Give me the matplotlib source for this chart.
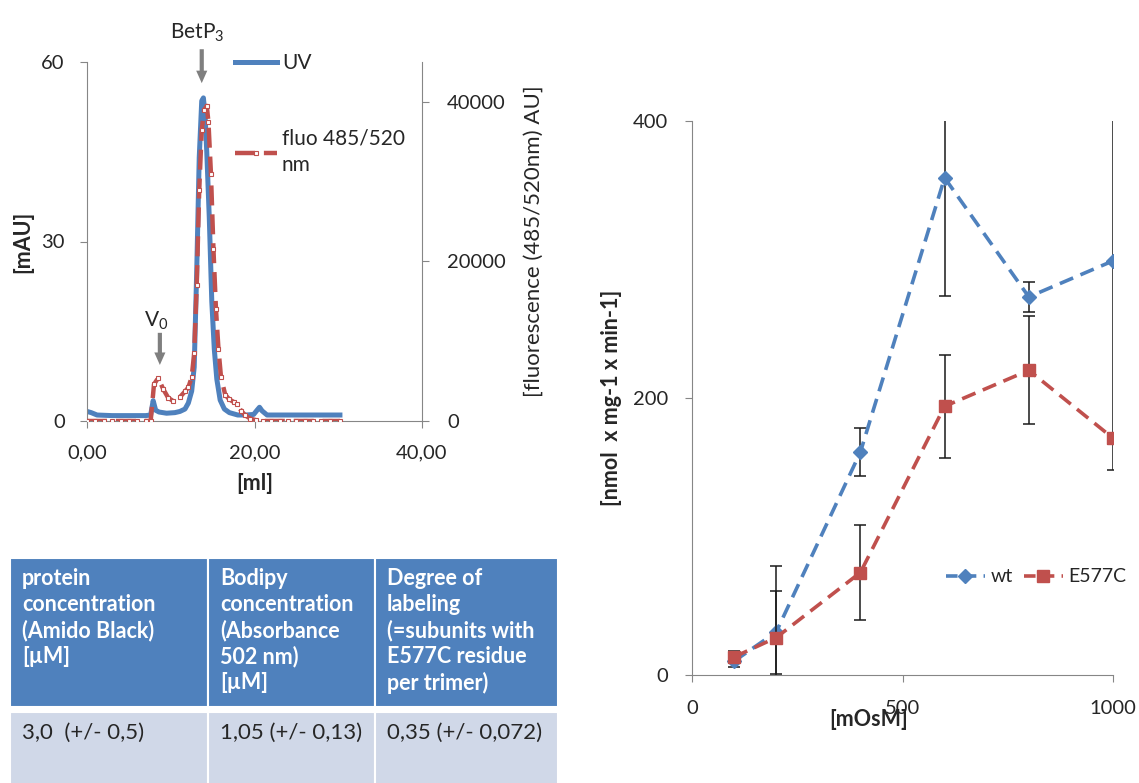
import matplotlib
matplotlib.use("Agg")
import matplotlib.pyplot as plt
from matplotlib.patches import Rectangle
from matplotlib.lines import Line2D

plt.rcParams['font.family'] = ['Lato', 'DejaVu Sans']
plt.rcParams['mathtext.default'] = 'regular'

# ---------------- data ----------------
# chromatogram (left)
uv_ml = [0.0, 0.5, 1.2, 3.0, 5.0, 7.0, 7.6, 7.9, 8.2, 8.6, 9.5, 10.5, 11.1, 11.7, 12.1,
         12.5, 12.8, 13.1, 13.4, 13.7, 13.9, 14.1, 14.3, 14.6, 14.9, 15.2, 15.5, 15.9,
         16.4, 17.0, 18.0, 19.0, 19.9, 20.3, 20.6, 20.9, 21.5, 23.0, 25.0, 27.0, 30.2]
uv_mau = [1.6, 1.4, 1.0, 0.9, 0.9, 0.9, 1.0, 3.4, 1.8, 1.5, 1.3, 1.4, 1.6, 2.0, 3.0,
          5.0, 9.0, 25.0, 44.0, 53.5, 54.0, 51.0, 45.0, 34.0, 20.0, 12.0, 7.0, 3.5,
          2.0, 1.4, 1.0, 1.0, 1.1, 1.8, 2.3, 1.7, 1.0, 1.0, 1.0, 1.0, 1.0]

fl_ml = [0.0, 1.0, 2.0, 3.0, 4.0, 5.0, 6.0, 7.0, 7.6, 8.0, 8.5, 9.1, 9.7, 10.3, 11.1,
         11.7, 12.1, 12.5, 12.8, 13.1, 13.4, 13.7, 14.0, 14.3, 14.5, 14.8, 15.1, 15.4,
         15.7, 16.0, 16.5, 17.0, 17.5, 17.9, 18.4, 18.9, 19.5, 20.2, 21.0, 22.0, 23.0,
         24.0, 25.0, 26.0, 27.0, 28.0, 29.0, 30.2]
fl_au = [0, 0, 0, 0, 0, 0, 0, 0, 0, 4600, 5400, 4000, 2900, 2500, 3000,
         3700, 4200, 5500, 8500, 17000, 29000, 36500, 39000, 39500, 37500, 31000, 21500, 14000,
         9000, 5500, 3300, 2700, 2400, 2100, 1300, 700, 300, 100, 0, 0, 0,
         0, 0, 0, 0, 0, 0, 0]

ml_ticks = [0, 20, 40]
ml_ticklabels = ["0,00", "20,00", "40,00"]
mau_ticks = [0, 30, 60]
au_ticks = [0, 20000, 40000]

# transport activity (right)
osm = [100, 200, 400, 600, 800, 1000]
wt = [10, 31, 161, 359, 273, 299]
wt_err = [4, 30, 17, 85, 11, 151]
e577c = [13, 27, 74, 194, 220, 171]
e577c_err = [4, 52, 34, 37, 39, 4]
osm_ticks = [0, 500, 1000]
act_ticks = [0, 200, 400]

# table
table_header = ["protein\nconcentration\n(Amido Black)\n[µM]",
                "Bodipy\nconcentration\n(Absorbance\n502 nm)\n[µM]",
                "Degree of\nlabeling\n(=subunits with\nE577C residue\nper trimer)"]
table_values = ["3,0  (+/- 0,5)", "1,05 (+/- 0,13)", "0,35 (+/- 0,072)"]
col_widths = [198, 167, 183]

# ---------------- styling ----------------
BLUE = '#4F81BD'
RED = '#C0504D'
SPINE = '#868686'
TXT = '#262626'
W, H = 1139, 783
TICK_FS = 14.5
LAB_FS = 15.5

fig = plt.figure(figsize=(W / 100, H / 100), dpi=100)


def fx(px):
    return px / W


def fy(py):
    return 1 - py / H


# ---------------- left chart ----------------
ax = fig.add_axes([fx(87), fy(421), fx(422) - fx(87), fy(62) - fy(421)])
ax.plot(uv_ml, uv_mau, color=BLUE, lw=3.6, solid_joinstyle='round', label='UV', zorder=2)
ax.set_xlim(0, 40)
ax.set_ylim(0, 60)
ax.set_xticks(ml_ticks)
ax.set_xticklabels(ml_ticklabels)
ax.set_yticks(mau_ticks)
ax.spines['top'].set_visible(False)
ax.spines['right'].set_visible(False)
for s in ['left', 'bottom']:
    ax.spines[s].set_color(SPINE)
ax.tick_params(colors=SPINE, labelcolor=TXT, labelsize=TICK_FS, length=5, direction='out')
ax.tick_params(axis='x', pad=12)
ax.tick_params(axis='y', pad=11)
ax.set_ylabel('[mAU]', fontsize=LAB_FS, fontweight='bold', color=TXT, labelpad=6)
ax.set_xlabel('[ml]', fontsize=LAB_FS, fontweight='bold', color=TXT, labelpad=8)

ax2 = ax.twinx()
ax2.plot(fl_ml, fl_au, color=RED, lw=3.2, dashes=(4.5, 2.0), marker='s', ms=3,
         mfc='white', mec=RED, mew=0.8, label='fluo 485/520\nnm', zorder=3)
ax2.set_ylim(0, 45000)
ax2.set_yticks(au_ticks)
ax2.spines['top'].set_visible(False)
ax2.spines['left'].set_visible(False)
ax2.spines['bottom'].set_visible(False)
ax2.spines['right'].set_color(SPINE)
ax2.tick_params(colors=SPINE, labelcolor=TXT, labelsize=TICK_FS, length=5, direction='out', pad=13)
ax2.set_ylabel('[fluorescence (485/520nm) AU]', fontsize=16, color=TXT, labelpad=13)

# arrows
arrow_style = 'simple,head_length=0.9,head_width=0.8,tail_width=0.3'
ax.annotate('', xy=(13.7, 56.0), xytext=(13.7, 62.6), annotation_clip=False,
            arrowprops=dict(arrowstyle=arrow_style, color='#7F7F7F', lw=0))
ax.text(13.2, 64.8, 'BetP$_3$', ha='center', va='center', fontsize=15, color=TXT, clip_on=False)
ax.annotate('', xy=(8.7, 8.9), xytext=(8.7, 15.2), annotation_clip=False,
            arrowprops=dict(arrowstyle=arrow_style, color='#7F7F7F', lw=0))
ax.text(8.3, 16.8, 'V$_0$', ha='center', va='center', fontsize=15, color=TXT)

h1, l1 = ax.get_legend_handles_labels()
h2, l2 = ax2.get_legend_handles_labels()
leg = ax2.legend(h1 + h2, l1 + l2, loc='upper left', bbox_to_anchor=(fx(235), fy(53)),
                 bbox_transform=fig.transFigure, frameon=False, fontsize=15,
                 handlelength=2.0, handletextpad=0.25, labelspacing=2.65, borderpad=0,
                 borderaxespad=0)
for t in leg.get_texts():
    t.set_color(TXT)
    t.set_linespacing(1.45)

# ---------------- right chart ----------------
bx = fig.add_axes([fx(692), fy(675), fx(1113) - fx(692), fy(121) - fy(675)])
bx.errorbar(osm, wt, yerr=wt_err, color=BLUE, lw=2.6, dashes=(4.0, 2.2), marker='D', ms=7,
            mfc=BLUE, mec=BLUE, ecolor='#1a1a1a', elinewidth=1.1, capsize=4, capthick=1.1,
            label='wt', zorder=3)
bx.errorbar(osm, e577c, yerr=e577c_err, color=RED, lw=2.6, dashes=(4.0, 2.2), marker='s', ms=9,
            mfc=RED, mec=RED, ecolor='#1a1a1a', elinewidth=1.1, capsize=4, capthick=1.1,
            label='E577C', zorder=4)
bx.set_xlim(0, 1000)
bx.set_ylim(0, 400)
bx.set_xticks(osm_ticks)
bx.set_yticks(act_ticks)
bx.spines['top'].set_visible(False)
bx.spines['right'].set_visible(False)
for s in ['left', 'bottom']:
    bx.spines[s].set_color(SPINE)
bx.tick_params(colors=SPINE, labelcolor=TXT, labelsize=TICK_FS, length=5, direction='out')
bx.tick_params(axis='x', pad=13)
bx.tick_params(axis='y', pad=12)
bx.set_xlabel('[mOsM]', fontsize=LAB_FS, fontweight='bold', color=TXT)
bx.xaxis.set_label_coords(0.42, -0.062)
bx.set_ylabel('[nmol  x mg-1 x min-1]', fontsize=LAB_FS, fontweight='bold', color=TXT, labelpad=8)

hb = [Line2D([], [], color=BLUE, lw=2.6, dashes=(3.2, 2.0), marker='D', ms=7),
      Line2D([], [], color=RED, lw=2.6, dashes=(3.2, 2.0), marker='s', ms=9)]
leg2 = bx.legend(hb, ['wt', 'E577C'], loc='center left', bbox_to_anchor=(fx(946), fy(577)),
                 bbox_transform=fig.transFigure, frameon=False, fontsize=14, ncol=2,
                 handlelength=2.0, handletextpad=0.3, columnspacing=0.55, borderpad=0,
                 borderaxespad=0)
for t in leg2.get_texts():
    t.set_color(TXT)

# ---------------- table ----------------
tx = fig.add_axes([fx(10), 0, fx(558) - fx(10), fy(558)])
tx.set_xlim(0, sum(col_widths))
tx.set_ylim(225, 0)
tx.axis('off')
x0 = 0
for w, head, val in zip(col_widths, table_header, table_values):
    tx.add_patch(Rectangle((x0, 0), w, 149, facecolor=BLUE, edgecolor='white', lw=1.5))
    tx.add_patch(Rectangle((x0, 154), w, 80, facecolor='#D0D8E8', edgecolor='white', lw=1.5))
    tx.text(x0 + 12, 10, head, ha='left', va='top', fontsize=15.5, fontweight='bold',
            color='white', linespacing=1.27)
    tx.text(x0 + 12, 175, val, ha='left', va='center', fontsize=16, color=TXT)
    x0 += w

fig.savefig('out.png', dpi=100)
